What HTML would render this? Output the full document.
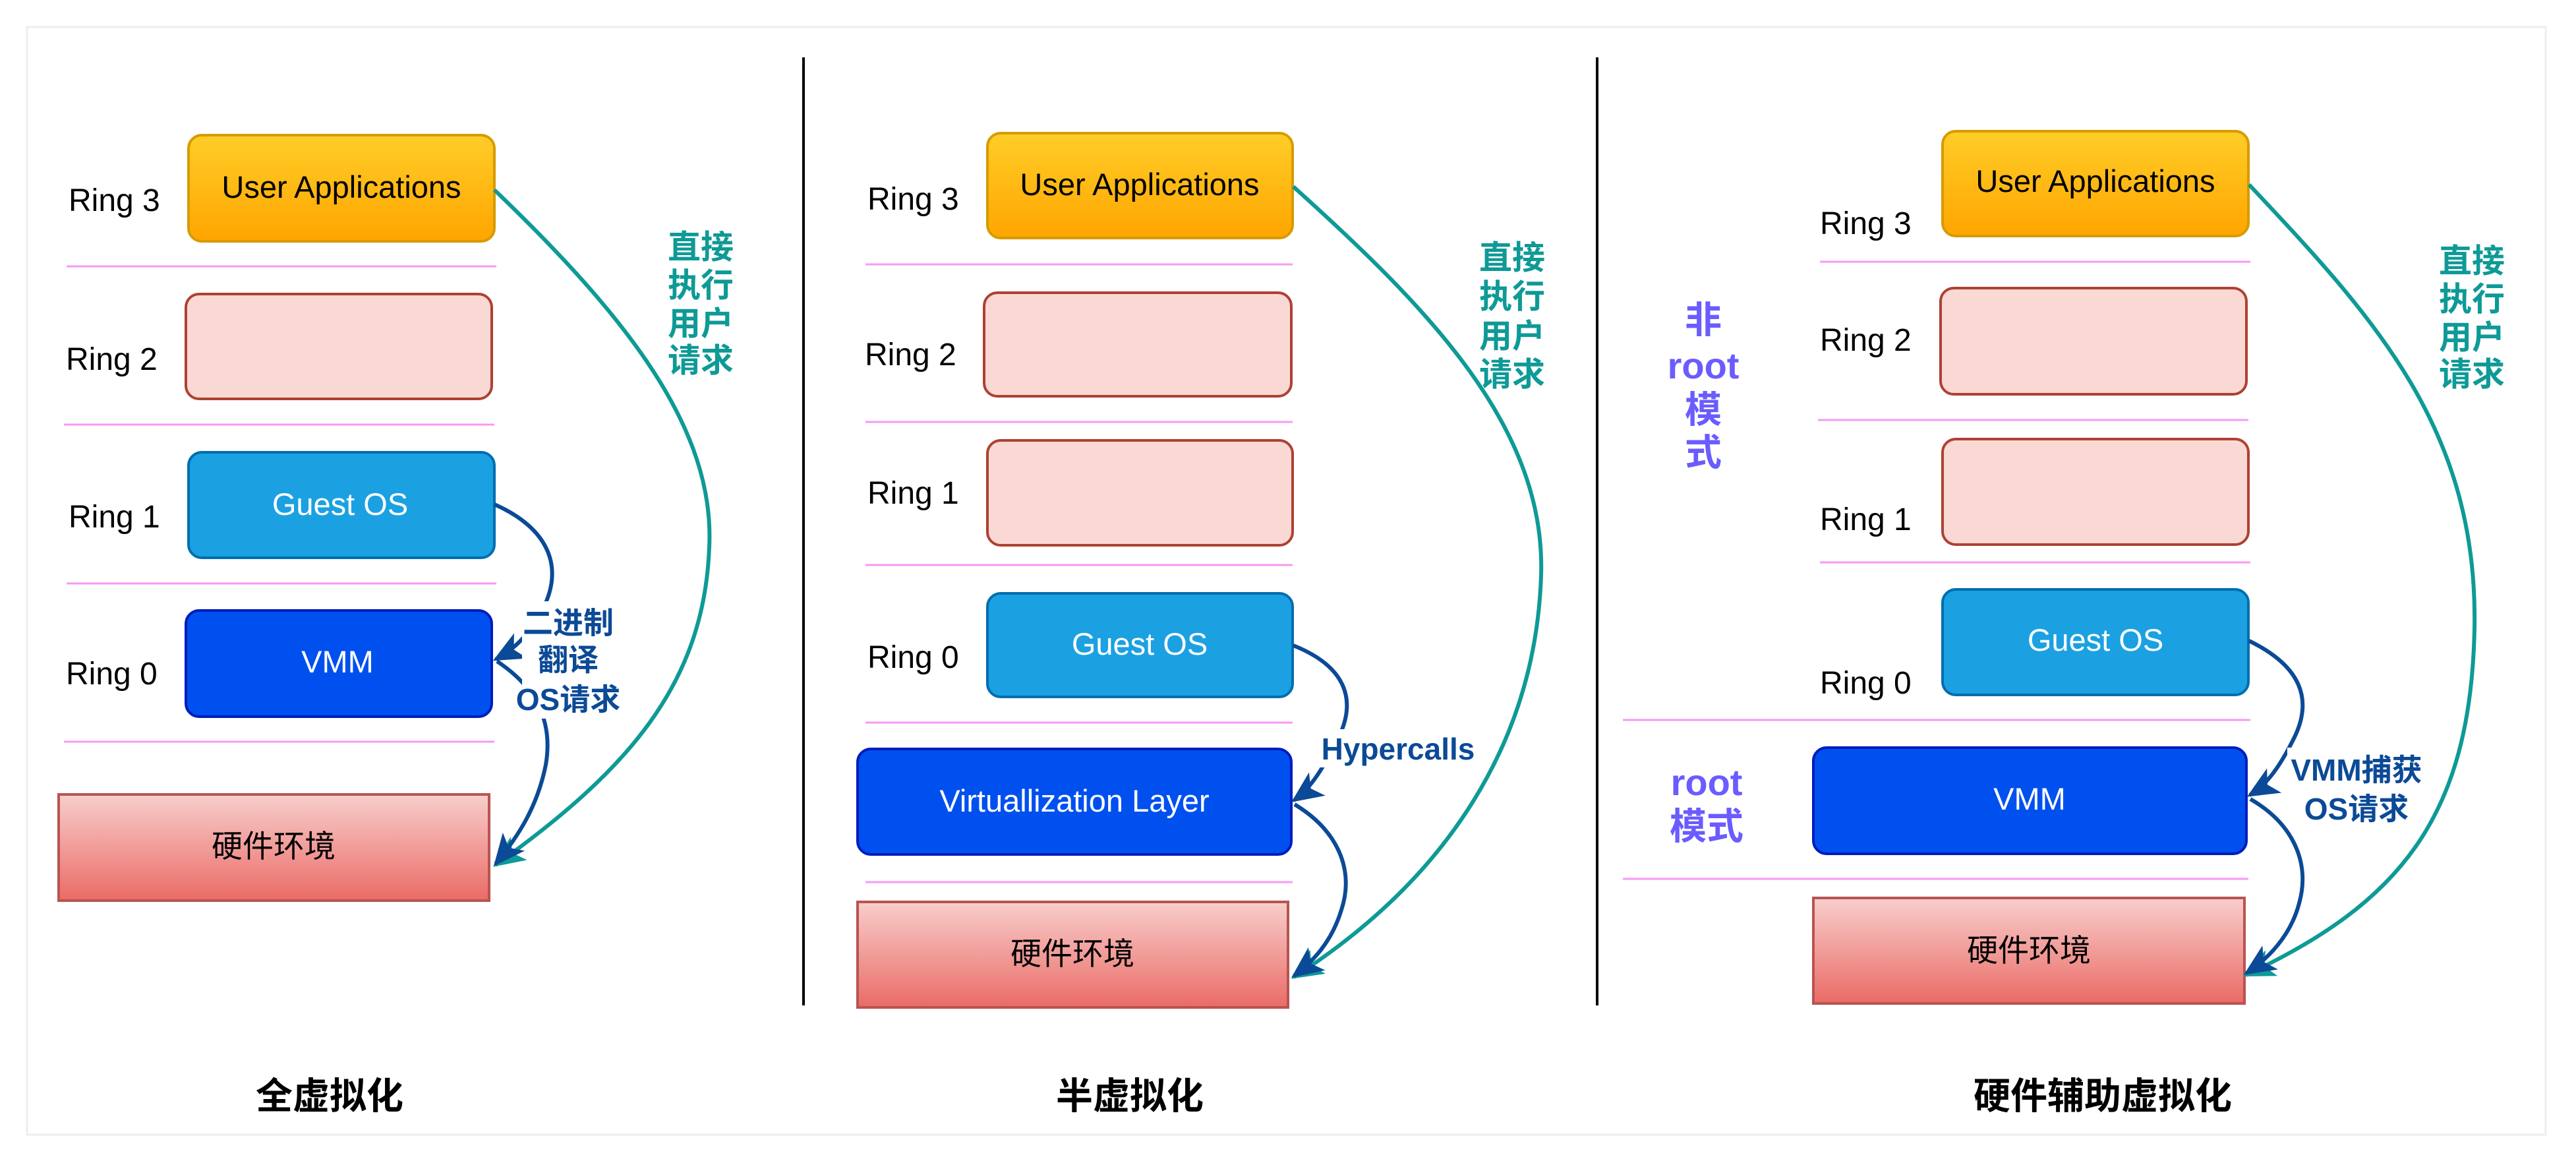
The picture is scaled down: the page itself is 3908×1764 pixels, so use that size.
<!DOCTYPE html>
<html><head><meta charset="utf-8"><style>
html,body{margin:0;padding:0;background:#fff;}
svg{display:block;}
text{font-family:"Liberation Sans","Noto Sans CJK SC",sans-serif;}
</style></head><body>
<svg width="3908" height="1764" viewBox="0 0 3908 1764" xmlns="http://www.w3.org/2000/svg">
<defs>
<linearGradient id="gy" x1="0" y1="0" x2="0" y2="1"><stop offset="0" stop-color="#ffcd28"/><stop offset="1" stop-color="#ffa500"/></linearGradient>
<linearGradient id="gr" x1="0" y1="0" x2="0" y2="1"><stop offset="0" stop-color="#f8cecc"/><stop offset="1" stop-color="#ea6b66"/></linearGradient>
<marker id="mt" viewBox="0 0 20 20" refX="18" refY="10" markerWidth="8" markerHeight="8" orient="auto" markerUnits="strokeWidth"><path d="M0,1 L20,10 L0,19 L5,10 Z" fill="#0e9a96"/></marker>
<marker id="mb" viewBox="0 0 20 20" refX="18" refY="10" markerWidth="8" markerHeight="8" orient="auto" markerUnits="strokeWidth"><path d="M0,1 L20,10 L0,19 L5,10 Z" fill="#0b4a96"/></marker>
</defs>
<rect x="41" y="41" width="3821" height="1680" fill="#fff" stroke="#eeeeee" stroke-width="3"/>
<line x1="1219" y1="87" x2="1219" y2="1525" stroke="#000" stroke-width="4"/>
<line x1="2423" y1="87" x2="2423" y2="1525" stroke="#000" stroke-width="4"/>

<g stroke="#f59af5" stroke-width="3">
<line x1="101" y1="404" x2="753" y2="404"/><line x1="97" y1="644" x2="750" y2="644"/>
<line x1="101" y1="885" x2="753" y2="885"/><line x1="97" y1="1125" x2="750" y2="1125"/>
<line x1="1313" y1="401" x2="1961" y2="401"/><line x1="1313" y1="640" x2="1961" y2="640"/>
<line x1="1313" y1="857" x2="1961" y2="857"/><line x1="1313" y1="1096" x2="1961" y2="1096"/>
<line x1="1313" y1="1338" x2="1961" y2="1338"/>
<line x1="2761" y1="397" x2="3414" y2="397"/><line x1="2758" y1="637" x2="3411" y2="637"/>
<line x1="2761" y1="853" x2="3414" y2="853"/><line x1="2462" y1="1092" x2="3414" y2="1092"/>
<line x1="2462" y1="1333" x2="3411" y2="1333"/>
</g>

<!-- Panel 1 -->
<rect x="286" y="205" width="464" height="161" rx="20" fill="url(#gy)" stroke="#d79b00" stroke-width="4"/>
<rect x="282" y="446" width="464" height="159" rx="20" fill="#fad9d5" stroke="#ae4132" stroke-width="4"/>
<rect x="286" y="686" width="464" height="160" rx="20" fill="#1ba1e2" stroke="#006eaf" stroke-width="4"/>
<rect x="282" y="926" width="464" height="161" rx="20" fill="#0050ef" stroke="#001dbc" stroke-width="4"/>
<rect x="89" y="1205" width="653" height="161" fill="url(#gr)" stroke="#b85450" stroke-width="4"/>
<g font-size="48" fill="#000">
<text x="104" y="320">Ring 3</text><text x="100" y="561">Ring 2</text>
<text x="104" y="800">Ring 1</text><text x="100" y="1038">Ring 0</text>
</g>
<text x="518" y="300" font-size="47" text-anchor="middle">User Applications</text>
<text x="516" y="781" font-size="47" text-anchor="middle" fill="#fff">Guest OS</text>
<text x="512" y="1020" font-size="47" text-anchor="middle" fill="#fff">VMM</text>
<text x="415" y="1300" font-size="47" text-anchor="middle">硬件环境</text>

<!-- Panel 2 -->
<rect x="1498" y="202" width="463" height="159" rx="20" fill="url(#gy)" stroke="#d79b00" stroke-width="4"/>
<rect x="1493" y="444" width="466" height="157" rx="20" fill="#fad9d5" stroke="#ae4132" stroke-width="4"/>
<rect x="1498" y="668" width="463" height="159" rx="20" fill="#fad9d5" stroke="#ae4132" stroke-width="4"/>
<rect x="1498" y="900" width="463" height="157" rx="20" fill="#1ba1e2" stroke="#006eaf" stroke-width="4"/>
<rect x="1301" y="1136" width="658" height="160" rx="20" fill="#0050ef" stroke="#001dbc" stroke-width="4"/>
<rect x="1301" y="1368" width="653" height="160" fill="url(#gr)" stroke="#b85450" stroke-width="4"/>
<g font-size="48" fill="#000">
<text x="1316" y="318">Ring 3</text><text x="1312" y="554">Ring 2</text>
<text x="1316" y="764">Ring 1</text><text x="1316" y="1013">Ring 0</text>
</g>
<text x="1729" y="296" font-size="47" text-anchor="middle">User Applications</text>
<text x="1729" y="993" font-size="47" text-anchor="middle" fill="#fff">Guest OS</text>
<text x="1630" y="1231" font-size="47" text-anchor="middle" fill="#fff">Virtuallization Layer</text>
<text x="1627" y="1463" font-size="47" text-anchor="middle">硬件环境</text>

<!-- Panel 3 -->
<rect x="2947" y="199" width="464" height="159" rx="20" fill="url(#gy)" stroke="#d79b00" stroke-width="4"/>
<rect x="2944" y="437" width="464" height="161" rx="20" fill="#fad9d5" stroke="#ae4132" stroke-width="4"/>
<rect x="2947" y="666" width="464" height="160" rx="20" fill="#fad9d5" stroke="#ae4132" stroke-width="4"/>
<rect x="2947" y="894" width="464" height="160" rx="20" fill="#1ba1e2" stroke="#006eaf" stroke-width="4"/>
<rect x="2751" y="1134" width="657" height="161" rx="20" fill="#0050ef" stroke="#001dbc" stroke-width="4"/>
<rect x="2751" y="1362" width="654" height="160" fill="url(#gr)" stroke="#b85450" stroke-width="4"/>
<g font-size="48" fill="#000">
<text x="2761" y="355">Ring 3</text><text x="2761" y="532">Ring 2</text>
<text x="2761" y="804">Ring 1</text><text x="2761" y="1052">Ring 0</text>
</g>
<text x="3179" y="291" font-size="47" text-anchor="middle">User Applications</text>
<text x="3179" y="987" font-size="47" text-anchor="middle" fill="#fff">Guest OS</text>
<text x="3079" y="1228" font-size="47" text-anchor="middle" fill="#fff">VMM</text>
<text x="3078" y="1458" font-size="47" text-anchor="middle">硬件环境</text>
<g font-size="56" font-weight="bold" fill="#6a5cff" text-anchor="middle">
<text x="2584" y="505">非</text><text x="2584" y="574">root</text>
<text x="2584" y="641">模</text><text x="2584" y="706">式</text>
<text x="2589" y="1206">root</text><text x="2589" y="1273">模式</text>
</g>

<!-- teal curves -->
<g fill="none" stroke="#0e9a96" stroke-width="6">
<path d="M750,288 C950,480 1085,650 1076,830 C1068,1040 950,1170 752,1312" marker-end="url(#mt)"/>
<path d="M1962,283 C2170,470 2345,650 2338,872 C2330,1120 2200,1330 1963,1482" marker-end="url(#mt)"/>
<path d="M3412,280 C3600,480 3760,650 3754,954 C3748,1240 3640,1370 3407,1479" marker-end="url(#mt)"/>
</g>
<!-- blue curves -->
<g fill="none" stroke="#0b4a96" stroke-width="6">
<path d="M750,765 C830,800 860,860 820,930 C800,965 780,985 752,1000" marker-end="url(#mb)"/>
<path d="M754,1003 C810,1040 840,1090 828,1160 C815,1225 785,1270 752,1310" marker-end="url(#mb)"/>
<path d="M1962,979 C2040,1010 2060,1060 2030,1120 C2010,1160 1990,1195 1963,1214" marker-end="url(#mb)"/>
<path d="M1964,1220 C2030,1260 2055,1320 2035,1380 C2020,1430 1990,1460 1963,1480" marker-end="url(#mb)"/>
<path d="M3412,972 C3490,1010 3510,1060 3480,1120 C3460,1160 3440,1190 3413,1206" marker-end="url(#mb)"/>
<path d="M3414,1212 C3480,1250 3505,1310 3488,1370 C3475,1420 3440,1455 3408,1476" marker-end="url(#mb)"/>
</g>

<!-- label backgrounds -->
<rect x="792" y="912" width="145" height="178" fill="#fff"/>
<rect x="2000" y="1106" width="245" height="58" fill="#fff"/>
<rect x="3470" y="1134" width="210" height="120" fill="#fff"/>

<g font-size="50" font-weight="bold" fill="#0e9a96" text-anchor="middle">
<text x="1063" y="392">直接</text><text x="1063" y="450">执行</text><text x="1063" y="508">用户</text><text x="1063" y="564">请求</text>
<text x="2294" y="408">直接</text><text x="2294" y="467">执行</text><text x="2294" y="527">用户</text><text x="2294" y="585">请求</text>
<text x="3750" y="413">直接</text><text x="3750" y="471">执行</text><text x="3750" y="529">用户</text><text x="3750" y="585">请求</text>
</g>
<g font-size="46" font-weight="bold" fill="#0b4a96" text-anchor="middle">
<text x="862" y="961">二进制</text><text x="862" y="1017">翻译</text><text x="862" y="1077">OS请求</text>
<text x="2121" y="1152">Hypercalls</text>
<text x="3575" y="1184">VMM捕获</text><text x="3575" y="1243">OS请求</text>
</g>
<g font-size="56" font-weight="bold" fill="#000" text-anchor="middle">
<text x="500" y="1682">全虚拟化</text>
<text x="1714" y="1682">半虚拟化</text>
<text x="3190" y="1682">硬件辅助虚拟化</text>
</g>
</svg>
</body></html>
